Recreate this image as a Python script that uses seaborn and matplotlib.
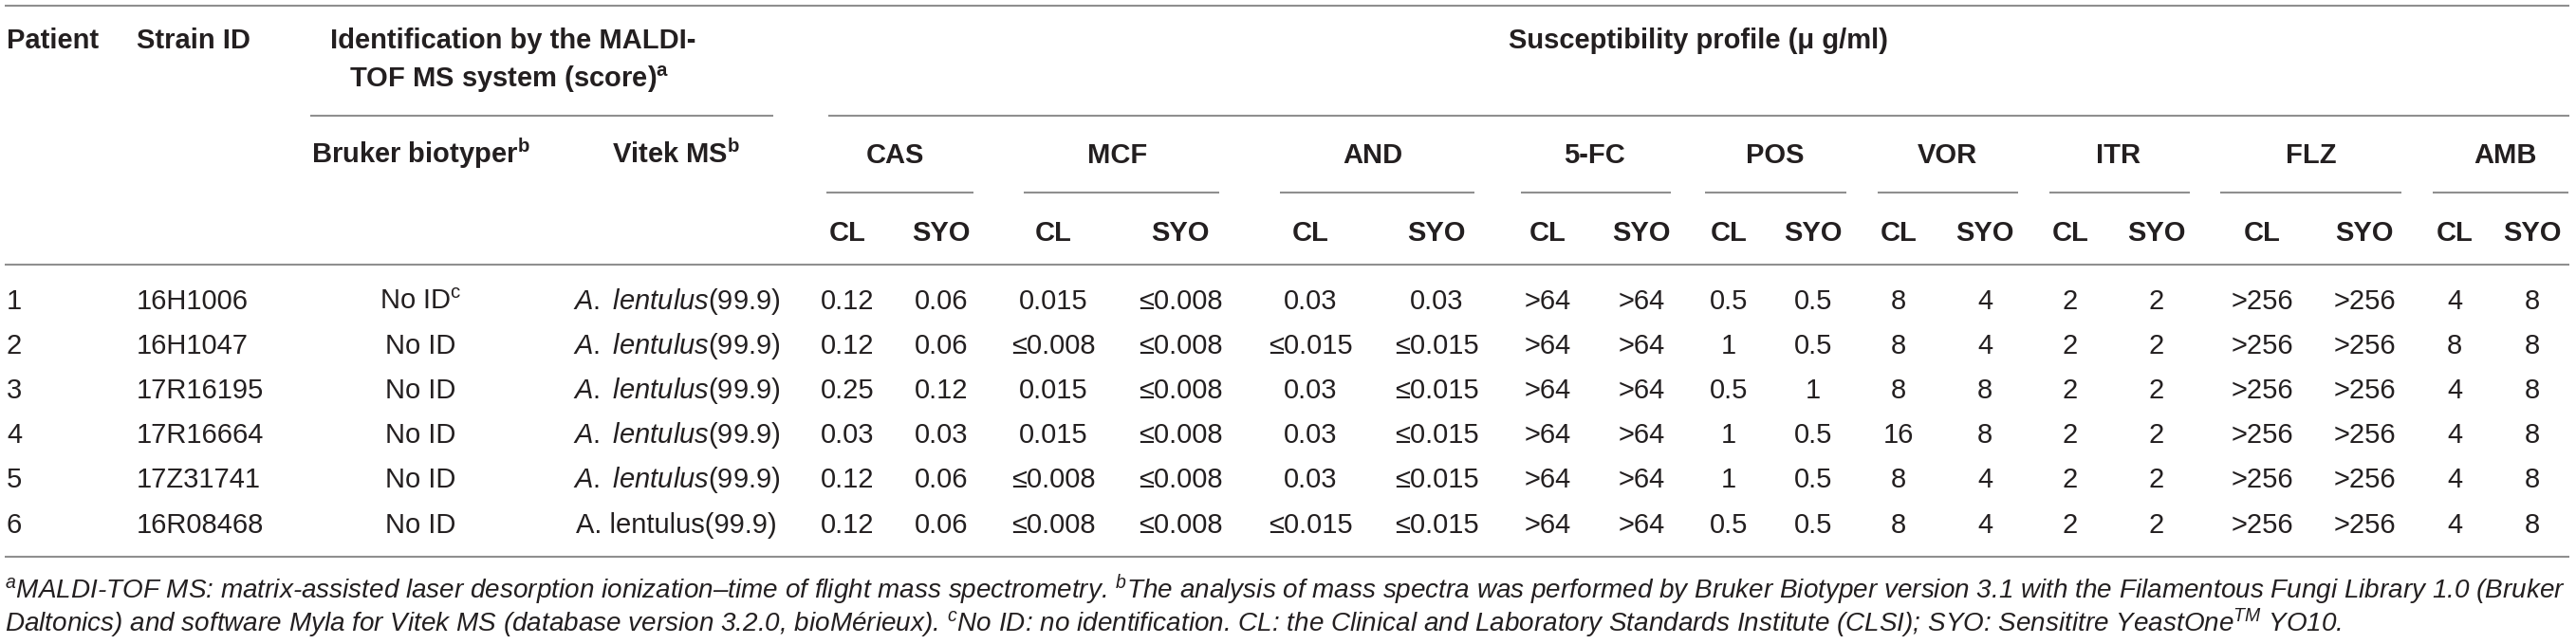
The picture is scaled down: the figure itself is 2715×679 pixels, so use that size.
import matplotlib
matplotlib.use("Agg")
import matplotlib.pyplot as plt
import seaborn as sns

# ---------------- data ----------------
patients = ["1", "2", "3", "4", "5", "6"]
strains = ["16H1006", "16H1047", "17R16195", "17R16664", "17Z31741", "16R08468"]
bruker_ids = [r"No ID$^{\mathrm{c}}$", "No ID", "No ID", "No ID", "No ID", "No ID"]
vitek_ids = [r"$\mathit{A.\ lentulus}$(99.9)", r"$\mathit{A.\ lentulus}$(99.9)",
             r"$\mathit{A.\ lentulus}$(99.9)", r"$\mathit{A.\ lentulus}$(99.9)",
             r"$\mathit{A.\ lentulus}$(99.9)", "A. lentulus(99.9)"]
drugs = ["CAS", "MCF", "AND", "5-FC", "POS", "VOR", "ITR", "FLZ", "AMB"]
sub_cols = ["CL", "SYO"]

cas_cl = ["0.12", "0.12", "0.25", "0.03", "0.12", "0.12"]
cas_syo = ["0.06", "0.06", "0.12", "0.03", "0.06", "0.06"]
mcf_cl = ["0.015", "≤0.008", "0.015", "0.015", "≤0.008", "≤0.008"]
mcf_syo = ["≤0.008", "≤0.008", "≤0.008", "≤0.008", "≤0.008", "≤0.008"]
and_cl = ["0.03", "≤0.015", "0.03", "0.03", "0.03", "≤0.015"]
and_syo = ["0.03", "≤0.015", "≤0.015", "≤0.015", "≤0.015", "≤0.015"]
fc_cl = [">64", ">64", ">64", ">64", ">64", ">64"]
fc_syo = [">64", ">64", ">64", ">64", ">64", ">64"]
pos_cl = ["0.5", "1", "0.5", "1", "1", "0.5"]
pos_syo = ["0.5", "0.5", "1", "0.5", "0.5", "0.5"]
vor_cl = ["8", "8", "8", "16", "8", "8"]
vor_syo = ["4", "4", "8", "8", "4", "4"]
itr_cl = ["2", "2", "2", "2", "2", "2"]
itr_syo = ["2", "2", "2", "2", "2", "2"]
flz_cl = [">256", ">256", ">256", ">256", ">256", ">256"]
flz_syo = [">256", ">256", ">256", ">256", ">256", ">256"]
amb_cl = ["4", "8", "4", "4", "4", "4"]
amb_syo = ["8", "8", "8", "8", "8", "8"]

drug_values = [(cas_cl, cas_syo), (mcf_cl, mcf_syo), (and_cl, and_syo),
               (fc_cl, fc_syo), (pos_cl, pos_syo), (vor_cl, vor_syo),
               (itr_cl, itr_syo), (flz_cl, flz_syo), (amb_cl, amb_syo)]

header_patient = "Patient"
header_strain = "Strain ID"
header_ident = ["Identification by the MALDI-", r"TOF MS system (score)$^{\mathbf{a}}$"]
header_bruker = r"Bruker biotyper$^{\mathbf{b}}$"
header_vitek = r"Vitek MS$^{\mathbf{b}}$"
header_susc = "Susceptibility profile (μ g/ml)"

footnote_lines = [
    r"$^{a}$MALDI-TOF MS: matrix-assisted laser desorption ionization–time of flight mass spectrometry. "
    r"$^{b}$The analysis of mass spectra was performed by Bruker Biotyper version 3.1 with the Filamentous Fungi Library 1.0 (Bruker",
    r"Daltonics) and software Myla for Vitek MS (database version 3.2.0, bioMérieux). "
    r"$^{c}$No ID: no identification. CL: the Clinical and Laboratory Standards Institute (CLSI); SYO: Sensititre YeastOne$^{TM}$ YO10.",
]

# ---------------- layout (pixels) ----------------
W, H = 2715, 679
x_patient, x_strain = 7, 144
x_bruker, x_vitek, x_ident = 443, 713, 541
sub_x = [(893, 992), (1110, 1244), (1381, 1514), (1631, 1730), (1822, 1911),
         (2001, 2092), (2182, 2273), (2384, 2492), (2587, 2669)]
drug_x = [943, 1178, 1447, 1680, 1871, 2052, 2233, 2436, 2641]
drug_lines = [(871, 1026), (1079, 1285), (1349, 1554), (1603, 1761), (1797, 1946),
              (1979, 2127), (2160, 2308), (2340, 2531), (2564, 2707)]
x_susc = 1790
table_left, table_right = 5, 2708
y_top, y_sub1, y_sub2, y_head_bottom, y_bottom = 6, 122, 203, 279, 587
yb_h1, yb_h2, yb_h3, yb_h4 = 51, 91.5, 172.5, 254
row_base0, row_step = 325.5, 47.2
foot_base = [631, 666]

TEXT = "#231f20"
RULE = "#8f8f8f"
FS = 21
LW = 1.5

# ---------------- style ----------------
sns.set_theme(style="white")
plt.rcParams["font.family"] = ["Liberation Sans", "DejaVu Sans"]
plt.rcParams["mathtext.fontset"] = "custom"
plt.rcParams["mathtext.rm"] = "Liberation Sans"
plt.rcParams["mathtext.it"] = "Liberation Sans:italic"
plt.rcParams["mathtext.bf"] = "Liberation Sans:bold"

fig = plt.figure(figsize=(W / 100, H / 100), dpi=100)
fig.patch.set_facecolor("white")
ax = fig.add_axes([0, 0, 1, 1])
ax.set_xlim(0, W)
ax.set_ylim(H, 0)
ax.axis("off")
sns.despine(ax=ax, left=True, bottom=True)


def hline(y, x0, x1):
    ax.plot([x0, x1], [y, y], color=RULE, lw=LW, solid_capstyle="butt")


def t(x, y, s, ha="center", bold=False, **kw):
    ax.text(x, y, s, ha=ha, va="baseline", fontsize=kw.pop("fs", FS),
            fontweight="bold" if bold else "normal", color=TEXT, **kw)


# rules
hline(y_top, table_left, table_right)
hline(y_sub1, 327, 815)
hline(y_sub1, 873, table_right)
for x0, x1 in drug_lines:
    hline(y_sub2, x0, x1)
hline(y_head_bottom, table_left, table_right)
hline(y_bottom, table_left, table_right)

# header
t(x_patient, yb_h1, header_patient, ha="left", bold=True)
t(x_strain, yb_h1, header_strain, ha="left", bold=True)
t(x_ident, yb_h1, header_ident[0], bold=True)
t(x_ident - 4, yb_h2, header_ident[1], bold=True)
t(x_susc, yb_h1, header_susc, bold=True)
t(x_bruker, yb_h3, header_bruker, bold=True)
t(x_vitek, yb_h3, header_vitek, bold=True)
for name, xc in zip(drugs, drug_x):
    t(xc, yb_h3, name, bold=True)
for (xcl, xsy) in sub_x:
    t(xcl, yb_h4, sub_cols[0], bold=True)
    t(xsy, yb_h4, sub_cols[1], bold=True)

# body
for i in range(len(patients)):
    yb = row_base0 + i * row_step
    t(x_patient, yb, patients[i], ha="left")
    t(x_strain, yb, strains[i], ha="left")
    t(x_bruker, yb, bruker_ids[i])
    t(x_vitek, yb, vitek_ids[i])
    for (cl_vals, syo_vals), (xcl, xsy) in zip(drug_values, sub_x):
        t(xcl, yb, cl_vals[i])
        t(xsy, yb, syo_vals[i])

# footnotes, fitted to the table width
fig.canvas.draw()
renderer = fig.canvas.get_renderer()
probe = ax.text(table_left, foot_base[0], footnote_lines[0], ha="left", va="baseline",
                fontsize=20, style="italic", color=TEXT)
w = probe.get_window_extent(renderer).width
probe.remove()
fs_foot = 20 * (table_right - table_left) / w
for line, yb in zip(footnote_lines, foot_base):
    ax.text(table_left, yb, line, ha="left", va="baseline", fontsize=fs_foot,
            style="italic", color=TEXT)

fig.savefig("out.png", dpi=100, facecolor="white")
